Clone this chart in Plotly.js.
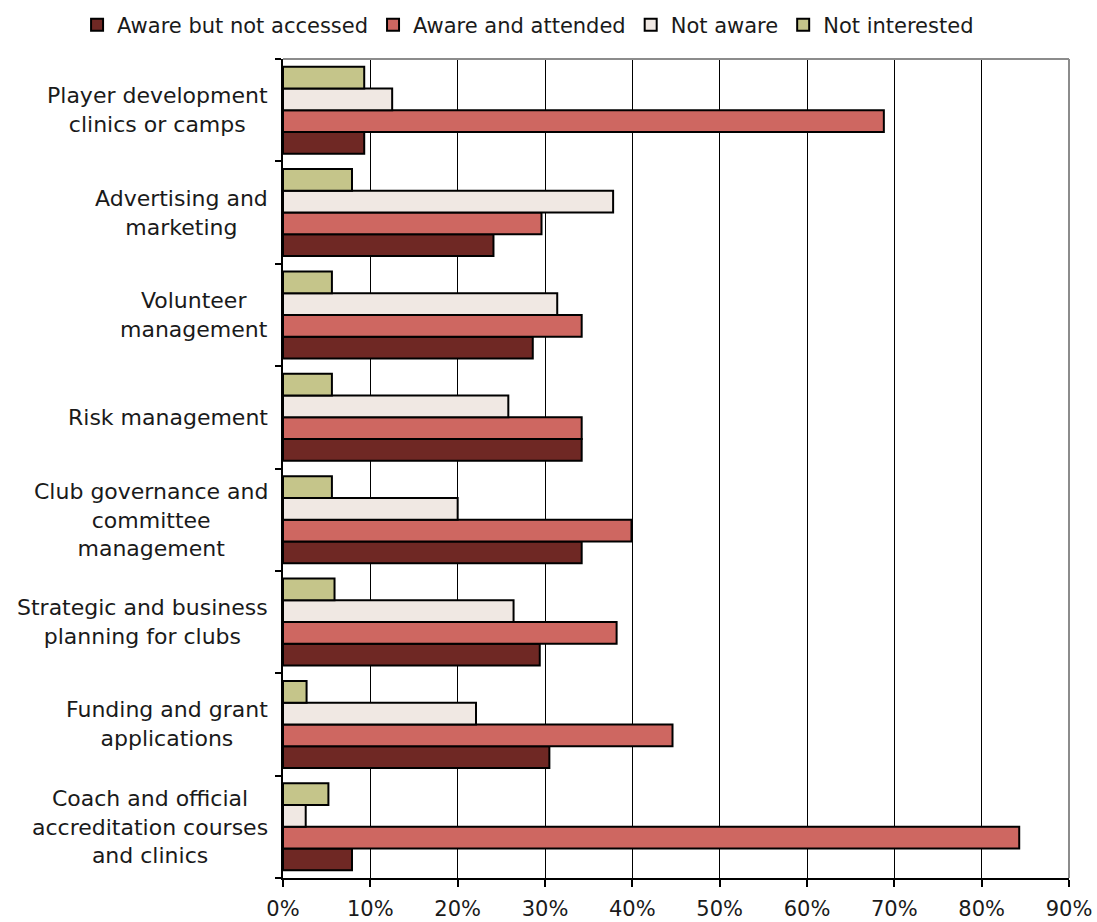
<!DOCTYPE html>
<html>
<head>
<meta charset="utf-8">
<script src="https://cdn.plot.ly/plotly-3.0.1.min.js"></script>
<style>
  html, body { margin: 0; padding: 0; background: #ffffff; }
  #chart { width: 1097px; height: 922px; }
</style>
</head>
<body>
<div id="chart"></div>
<script>
// Categories, listed top to bottom as in the chart
const categories = [
  "Player development<br>clinics or camps",
  "Advertising and<br>marketing",
  "Volunteer<br>management",
  "Risk management",
  "Club governance and<br>committee<br>management",
  "Strategic and business<br>planning for clubs",
  "Funding and grant<br>applications",
  "Coach and official<br>accreditation courses<br>and clinics"
];

const seriesNames = ["Aware but not accessed", "Aware and attended", "Not aware", "Not interested"];

// Values in percent, same order as categories
const awareNotAccessed = [9.3, 24.1, 28.6, 34.2, 34.2, 29.4, 30.5, 7.9];
const awareAttended    = [68.8, 29.6, 34.2, 34.2, 39.9, 38.2, 44.6, 84.3];
const notAware         = [12.5, 37.8, 31.4, 25.8, 20.0, 26.4, 22.1, 2.6];
const notInterested    = [9.3, 7.9, 5.6, 5.6, 5.6, 5.9, 2.7, 5.2];

const xTickVals = [0, 10, 20, 30, 40, 50, 60, 70, 80, 90];

const seriesValues = [awareNotAccessed, awareAttended, notAware, notInterested];
const seriesColors = ["#6F2824", "#CE6761", "#F0E8E3", "#C5C58A"];

const FONT = "DejaVu Sans, Verdana, sans-serif";

const traces = seriesNames.map((name, i) => ({
  type: "bar",
  orientation: "h",
  name: name,
  y: categories,
  x: seriesValues[i],
  marker: { color: seriesColors[i], line: { color: "#000000", width: 2 } },
  hoverinfo: "x+name"
}));

const annotations = categories.map(c => ({
  xref: "paper", yref: "y",
  x: 0, y: c,
  xanchor: "right", yanchor: "middle",
  xshift: -13,
  align: "center",
  text: c,
  showarrow: false,
  font: { family: FONT, size: 22, color: "#1a1a1a" }
}));

const layout = {
  width: 1097,
  height: 922,
  margin: { l: 283, r: 28, t: 59, b: 44, autoexpand: false },
  paper_bgcolor: "#ffffff",
  plot_bgcolor: "#ffffff",
  font: { family: FONT, size: 22, color: "#1a1a1a" },
  barmode: "group",
  bargap: 0.15,
  bargroupgap: 0,
  showlegend: true,
  legend: {
    orientation: "h",
    xref: "paper",
    yref: "paper",
    x: -0.262, xanchor: "left",
    y: 1.0415, yanchor: "middle",
    bgcolor: "rgba(0,0,0,0)",
    font: { family: FONT, size: 21, color: "#1a1a1a" },
    itemwidth: 30,
    tracegroupgap: 0,
    traceorder: "normal"
  },
  xaxis: {
    range: [0, 90],
    tickvals: xTickVals,
    ticktext: xTickVals.map(v => v + "%"),
    showgrid: true,
    gridcolor: "#000000",
    gridwidth: 1,
    zeroline: false,
    showline: true,
    linecolor: "#000000",
    linewidth: 1.5,
    ticks: "outside",
    ticklen: 7,
    tickcolor: "#000000",
    tickwidth: 1.5,
    ticklabelstandoff: 4,
    tickfont: { family: FONT, size: 21, color: "#1a1a1a" },
    fixedrange: true
  },
  yaxis: {
    type: "category",
    categoryorder: "array",
    categoryarray: categories.slice().reverse(),
    showticklabels: false,
    showgrid: false,
    zeroline: false,
    showline: true,
    linecolor: "#000000",
    linewidth: 1.5,
    ticks: "outside",
    tickson: "boundaries",
    ticklen: 6,
    tickcolor: "#000000",
    tickwidth: 1.5,
    fixedrange: true
  },
  shapes: [
    { type: "line", xref: "paper", yref: "paper", x0: 0, x1: 1, y0: 1, y1: 1,
      line: { color: "#8c8c8c", width: 2 } },
    { type: "line", xref: "paper", yref: "paper", x0: 1, x1: 1, y0: 0, y1: 1,
      line: { color: "#8c8c8c", width: 2 } }
  ],
  annotations: annotations
};

Plotly.newPlot("chart", traces, layout, { displayModeBar: false, staticPlot: false });
</script>
</body>
</html>
